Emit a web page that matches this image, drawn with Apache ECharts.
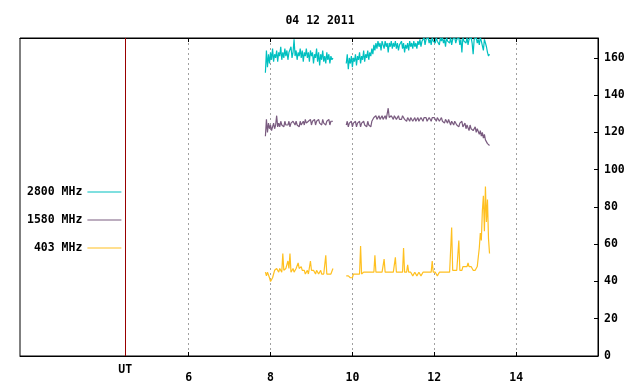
<!DOCTYPE html>
<html>
<head>
<meta charset="utf-8">
<script src="https://cdn.jsdelivr.net/npm/echarts@6/dist/echarts.min.js"></script>
<style>
  html, body { margin: 0; padding: 0; background: #fff; }
  #chart { width: 640px; height: 384px; }
</style>
</head>
<body>
<div id="chart"></div>
<script>
const title = "04 12 2011";
const tickHours = [6, 8, 10, 12, 14];
const utHour = 4.45;

// two observing runs, sampled every 0.025 h
const startA = 7.875, startB = 9.85, step = 0.025;

const teal2800A = [
  152, 164, 155, 162, 157, 163, 159, 165, 158, 162, 160, 164, 158, 163, 161, 166, 159, 163, 160, 165,
  161, 164, 159, 163, 162, 166, 160, 163, 170, 161, 164, 159, 163, 161, 165, 160, 164, 158, 163, 161,
  165, 160, 163, 158, 164, 161, 163, 157, 162, 160, 165, 158, 163, 156, 162, 159, 164, 158, 161, 157,
  163, 159, 162, 157, 161, 159, 160];
const teal2800B = [
  157, 162, 154, 160, 157, 161, 155, 160, 158, 162, 156, 161, 159, 163, 157, 161, 159, 164, 158, 162,
  160, 164, 159, 163, 161, 165, 162,
  167, 164, 168, 165, 169, 166, 168, 164, 169, 167, 165, 169, 166, 168, 163, 168, 166, 169, 165, 168,
  166, 169, 165, 168, 164, 167, 166, 169, 165, 168, 163, 167, 165, 168, 164, 169, 166, 168, 165, 169,
  166, 168, 165, 169, 167, 170, 166, 169, 168, 171, 167, 170, 169, 171, 168, 170, 167, 171, 169, 170,
  168, 171, 169, 170, 167, 171, 169, 171, 168, 170, 166, 171, 169, 170, 168, 171, 167, 170, 169, 171,
  168, 170, 169, 171, 167, 170, 163, 171, 169, 170, 168, 171, 167, 170, 169, 171, 168, 162, 170, 169,
  171, 168, 170, 167, 171, 169, 170, 164, 170, 168, 166, 163, 161, 162];

const purple1580A = [
  118, 127, 120, 125, 122, 124, 121, 123, 125, 122, 124, 129, 123, 125, 123, 126, 124, 125, 123, 126,
  124, 125, 124, 126, 123, 125, 124, 126, 125, 124, 126, 124, 125, 123, 126, 124, 125, 126, 124, 127,
  125, 124, 126, 125, 127, 124, 126, 125, 127, 124, 126, 125, 127, 125, 126, 124, 127, 125, 126, 124,
  126, 125, 127, 124, 126, 125, 126];
const purple1580B = [
  124, 126, 123, 125, 124, 126, 123, 125, 124, 126, 123, 125, 124, 126, 123, 125, 124, 126, 124, 125,
  123, 126, 124, 125, 123, 126, 125,
  128, 127, 129, 127, 128, 129, 127, 128, 129, 127, 128, 129, 127, 128, 133, 128, 127, 129, 128, 127,
  129, 128, 127, 128, 129, 127, 128, 127, 129, 128, 127, 128, 126, 128, 127, 126, 128, 127, 126, 127,
  128, 126, 127, 128, 126, 127, 128, 127, 126, 128, 127, 128, 126, 127, 128, 127, 126, 128, 127, 128,
  127, 126, 128, 127, 126, 127, 128, 126, 127, 125, 127, 126, 125, 127, 126, 124, 126, 125, 124, 126,
  125, 124, 125, 123, 125, 124, 126, 123, 124, 125, 122, 124, 123, 121, 124, 122, 123, 121, 122, 123,
  120, 122, 121, 119, 121, 118, 120, 117, 119, 116, 117, 114, 115, 113];

const yellow403A = [
  45, 43, 45, 44, 42, 40, 41, 42, 44, 46, 45, 47, 46, 45, 47, 46, 45, 55, 46, 45,
  47, 46, 51, 47, 55, 45, 46, 47, 45, 46, 47, 46, 50, 47, 46, 48, 46, 45, 46, 44,
  45, 46, 44, 45, 51, 46, 45, 46, 45, 44, 46, 45, 44, 45, 46, 44, 45, 44, 45, 54,
  44, 43, 44, 43, 44, 45, 47];
const yellow403B = [
  43, 44, 43, 44, 42, 43, 42, 44, 43, 44, 43, 44, 43, 44, 59, 44, 43, 45, 44, 45,
  44, 45, 46, 45, 44, 45, 46, 45, 54, 45, 46, 45, 44, 45, 44, 45, 46, 52, 45, 44,
  45, 44, 45, 46, 45, 44, 45, 44, 53, 45, 44, 45, 46, 45, 44, 45, 58, 45, 46, 45,
  49, 45, 44, 45, 44, 43, 44, 45, 44, 43, 44, 45, 44, 43, 44, 45, 44, 45, 44, 45,
  44, 45, 44, 45, 51, 45, 44, 45, 44, 43, 44, 45, 44, 45, 46, 45, 44, 45, 46, 45,
  46, 45, 46, 69, 46, 45, 46, 47, 46, 45, 62, 46, 47, 46, 48, 47, 48, 49, 48, 50,
  48, 47, 48, 47, 46, 47, 46, 47, 48, 53, 58, 66, 62, 78, 86, 67, 91, 72, 84, 63, 55];

function toPoints(a, b) {
  const pts = a.map((v, i) => [startA + i * step, v]);
  pts.push([(startA + a.length * step + startB) / 2, null]);
  b.forEach((v, i) => pts.push([startB + i * step, v]));
  return pts;
}

const font = 'DejaVu Sans Mono';
const chart = echarts.init(document.getElementById('chart'));

function lineSeries(name, color, a, b) {
  return {
    name: name,
    type: 'line',
    symbol: 'none',
    connectNulls: false,
    lineStyle: { color: color, width: 1.2 },
    itemStyle: { color: color },
    data: toPoints(a, b)
  };
}

const series = [
  lineSeries('2800 MHz', '#00c0c0', teal2800A, teal2800B),
  lineSeries('1580 MHz', '#7a5c80', purple1580A, purple1580B),
  lineSeries('403 MHz', '#ffc020', yellow403A, yellow403B)
];
series[0].markLine = {
  silent: true,
  symbol: 'none',
  label: { show: false },
  lineStyle: { color: '#990000', type: 'solid', width: 1 },
  data: [{ xAxis: utHour }]
};

chart.setOption({
  animation: false,
  title: {
    text: title,
    left: 'center',
    top: 10,
    textStyle: { fontFamily: font, fontSize: 11.5, fontWeight: 'bold', color: '#000' }
  },
  legend: {
    orient: 'vertical',
    left: 22,
    top: 181,
    align: 'right',
    icon: 'rect',
    itemWidth: 34,
    itemHeight: 1,
    itemGap: 16,
    formatter: n => '{a|' + n + '}',
    textStyle: {
      fontFamily: font, fontSize: 11.5, fontWeight: 'bold', color: '#000',
      rich: { a: { width: 58, align: 'right', fontFamily: font, fontSize: 11.5, fontWeight: 'bold' } }
    },
    data: ['2800 MHz', '1580 MHz', '403 MHz']
  },
  grid: {
    left: 20, right: 42, top: 38, bottom: 28,
    show: true, borderColor: '#000', borderWidth: 1
  },
  xAxis: [
    {
      type: 'value',
      position: 'bottom',
      min: 1.88,
      max: 16,
      axisLine: { lineStyle: { color: '#000' } },
      axisTick: { inside: true, length: 4, customValues: tickHours, lineStyle: { color: '#000' } },
      axisLabel: {
        customValues: [utHour].concat(tickHours),
        margin: 8,
        color: '#000',
        fontFamily: font, fontSize: 11.5, fontWeight: 'bold',
        formatter: v => v < 5 ? '{u|UT}' : '{n|' + v + '}',
        rich: {
          u: { fontFamily: font, fontSize: 11.5, fontWeight: 'bold' },
          n: { fontFamily: font, fontSize: 11.5, fontWeight: 'bold', padding: [8, 0, 0, 0] }
        }
      },
      splitLine: { show: true, lineStyle: { color: '#a0a0a0', type: [2, 3], width: 1 } }
    },
    {
      type: 'value',
      position: 'top',
      min: 1.88,
      max: 16,
      axisLine: { lineStyle: { color: '#000' } },
      axisTick: { inside: true, length: 4, customValues: tickHours, lineStyle: { color: '#000' } },
      axisLabel: { show: false },
      splitLine: { show: false }
    }
  ],
  yAxis: {
    type: 'value',
    position: 'right',
    min: 0,
    max: 170.7,
    interval: 20,
    axisLine: { show: true, lineStyle: { color: '#000' } },
    axisTick: { show: true, inside: true, length: 4, lineStyle: { color: '#000' } },
    axisLabel: {
      margin: 6, color: '#000',
      fontFamily: font, fontSize: 11.5, fontWeight: 'bold',
      showMaxLabel: false
    },
    splitLine: { show: false }
  },
  series: series
});
</script>
</body>
</html>
